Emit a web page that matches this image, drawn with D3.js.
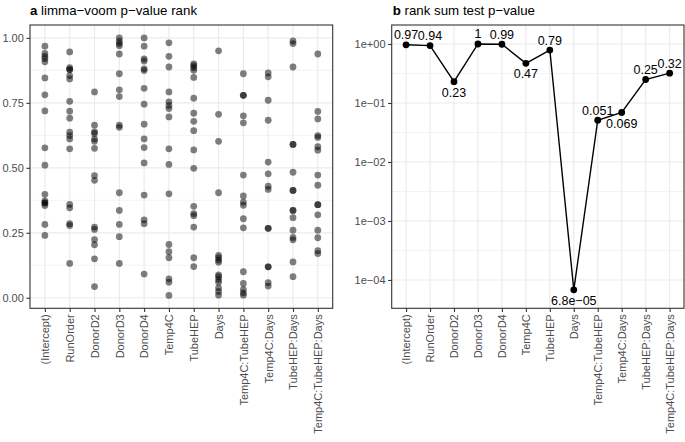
<!DOCTYPE html>
<html>
<head>
<meta charset="utf-8">
<script src="https://cdn.jsdelivr.net/npm/d3@7/dist/d3.min.js"></script>
<style>
  html, body { margin: 0; padding: 0; background: #fff; }
  svg { display: block; font-family: "Liberation Sans", Arial, Helvetica, sans-serif; }
</style>
</head>
<body>
<svg id="chart" width="685" height="442"></svg>
<script>
// ---------- data ----------
const categories = ["(Intercept)", "RunOrder", "DonorD2", "DonorD3", "DonorD4", "Temp4C", "TubeHEP", "Days",
  "Temp4C:TubeHEP", "Temp4C:Days", "TubeHEP:Days", "Temp4C:TubeHEP:Days"];

// panel a: limma-voom p-value ranks (one array per coefficient)
const rankIntercept = [0.968, 0.94, 0.929, 0.92, 0.908, 0.846, 0.781, 0.719, 0.577, 0.51, 0.398, 0.373, 0.365, 0.365, 0.355, 0.282, 0.24];
const rankRunOrder = [0.946, 0.885, 0.878, 0.878, 0.855, 0.842, 0.756, 0.718, 0.691, 0.637, 0.624, 0.611, 0.573, 0.359, 0.346, 0.285, 0.278, 0.132];
const rankDonorD2 = [0.792, 0.664, 0.638, 0.632, 0.611, 0.602, 0.575, 0.47, 0.452, 0.272, 0.263, 0.224, 0.204, 0.15, 0.043];
const rankDonorD3 = [1.0, 0.987, 0.978, 0.97, 0.938, 0.862, 0.8, 0.774, 0.664, 0.656, 0.404, 0.336, 0.282, 0.235, 0.132];
const rankDonorD4 = [1.0, 0.968, 0.919, 0.911, 0.881, 0.874, 0.806, 0.745, 0.668, 0.611, 0.578, 0.519, 0.395, 0.3, 0.285, 0.091];
const rankTemp4C = [0.981, 0.929, 0.888, 0.792, 0.754, 0.74, 0.728, 0.696, 0.573, 0.513, 0.4, 0.205, 0.177, 0.154, 0.073, 0.06, 0.009];
const rankTubeHEP = [0.9, 0.893, 0.885, 0.875, 0.848, 0.768, 0.71, 0.679, 0.643, 0.569, 0.498, 0.352, 0.324, 0.316, 0.272, 0.154, 0.12];
const rankDays = [0.95, 0.706, 0.602, 0.404, 0.163, 0.154, 0.145, 0.137, 0.088, 0.081, 0.07, 0.06, 0.038, 0.024, 0.01];
const rankTemp4CTubeHEP = [0.862, 0.779, 0.779, 0.7, 0.673, 0.472, 0.392, 0.368, 0.356, 0.304, 0.269, 0.1, 0.055, 0.032, 0.019, 0.01];
const rankTemp4CDays = [0.865, 0.85, 0.76, 0.683, 0.522, 0.477, 0.429, 0.417, 0.267, 0.267, 0.119, 0.119, 0.058, 0.045];
const rankTubeHEPDays = [0.988, 0.978, 0.888, 0.59, 0.59, 0.483, 0.413, 0.413, 0.336, 0.336, 0.308, 0.26, 0.232, 0.223, 0.138, 0.081];
const rankTemp4CTubeHEPDays = [0.938, 0.717, 0.688, 0.624, 0.617, 0.581, 0.568, 0.472, 0.433, 0.358, 0.358, 0.319, 0.26, 0.231, 0.181, 0.17];

const rankSeries = [rankIntercept, rankRunOrder, rankDonorD2, rankDonorD3, rankDonorD4, rankTemp4C, rankTubeHEP,
  rankDays, rankTemp4CTubeHEP, rankTemp4CDays, rankTubeHEPDays, rankTemp4CTubeHEPDays];

const rankTicks = [0, 0.25, 0.5, 0.75, 1];
const rankTickLabels = ["0.00", "0.25", "0.50", "0.75", "1.00"];

// panel b: rank sum test p-values
const pValues = [0.97, 0.94, 0.23, 1, 0.99, 0.47, 0.79, 6.8e-05, 0.051, 0.069, 0.25, 0.32];
const pLabels = ["0.97", "0.94", "0.23", "1", "0.99", "0.47", "0.79", "6.8e\u221205", "0.051", "0.069", "0.25", "0.32"];
const pLabelSide = ["above", "above", "below", "above", "above", "below", "above", "below", "above", "below", "above", "above"];
const pTicks = [1, 0.1, 0.01, 0.001, 0.0001];
const pTickLabels = ["1e+00", "1e\u221201", "1e\u221202", "1e\u221203", "1e\u221204"];
const pMinorTicks = [Math.pow(10, -0.5), Math.pow(10, -1.5), Math.pow(10, -2.5), Math.pow(10, -3.5)];

// ---------- layout ----------
const svg = d3.select("#chart");
const gridColor = "#ebebeb";
const borderColor = "#333333";
const axisTextColor = "#4d4d4d";
const panelTop = 25, panelBottom = 308.3;

function bandScale(x0, x1) {
  // discrete scale with 0.6 expansion on both sides (ggplot-like)
  return d3.scalePoint().domain(categories).range([x0, x1]).padding(0.6);
}

function drawXAxis(g, x) {
  const ax = g.append("g").attr("transform", `translate(0,${panelBottom})`)
    .call(d3.axisBottom(x).tickSize(3.6).tickPadding(2.4));
  ax.select(".domain").remove();
  ax.selectAll(".tick line").attr("stroke", borderColor).attr("stroke-width", 1.1);
  ax.selectAll(".tick text")
    .attr("fill", axisTextColor)
    .attr("font-size", "11px")
    .attr("font-family", "'Liberation Sans', Arial, sans-serif")
    .attr("transform", "rotate(-90)")
    .attr("text-anchor", "end")
    .attr("x", -6)
    .attr("y", 0)
    .attr("dy", "0.35em");
}

function drawYAxis(g, y, left, ticks, labels) {
  const ax = g.append("g").attr("transform", `translate(${left},0)`)
    .call(d3.axisLeft(y).tickValues(ticks).tickFormat((d, i) => labels[i]).tickSize(3.6).tickPadding(2.6));
  ax.select(".domain").remove();
  ax.selectAll(".tick line").attr("stroke", borderColor).attr("stroke-width", 1.1);
  ax.selectAll(".tick text")
    .attr("fill", axisTextColor)
    .attr("font-size", "11px")
    .attr("font-family", "'Liberation Sans', Arial, sans-serif");
}

// ---------- panel a ----------
{
  const left = 30, right = 332.7;
  const x = bandScale(left, right);
  const allVals = rankSeries.flat();
  const [mn, mx] = d3.extent(allVals);
  const pad = (mx - mn) * 0.05;
  const y = d3.scaleLinear().domain([mn - pad, mx + pad]).range([panelBottom, panelTop]);
  const g = svg.append("g");

  const minor = [0.125, 0.375, 0.625, 0.875];
  g.selectAll(".minor").data(minor).join("line")
    .attr("x1", left).attr("x2", right)
    .attr("y1", d => y(d)).attr("y2", d => y(d))
    .attr("stroke", gridColor).attr("stroke-width", 0.6);
  g.selectAll(".hmajor").data(rankTicks).join("line")
    .attr("x1", left).attr("x2", right)
    .attr("y1", d => y(d)).attr("y2", d => y(d))
    .attr("stroke", gridColor).attr("stroke-width", 1.2);
  g.selectAll(".vmajor").data(categories).join("line")
    .attr("x1", d => x(d)).attr("x2", d => x(d))
    .attr("y1", panelTop).attr("y2", panelBottom)
    .attr("stroke", gridColor).attr("stroke-width", 1.2);

  const pts = [];
  rankSeries.forEach((arr, i) => arr.forEach(v => pts.push({ c: categories[i], v })));
  g.selectAll(".pt").data(pts).join("circle")
    .attr("cx", d => x(d.c)).attr("cy", d => y(d.v)).attr("r", 3.4)
    .attr("fill", "#000").attr("fill-opacity", 0.5);

  g.append("rect").attr("x", left).attr("y", panelTop).attr("width", right - left).attr("height", panelBottom - panelTop)
    .attr("fill", "none").attr("stroke", borderColor).attr("stroke-width", 1.1);

  drawXAxis(g, x);
  drawYAxis(g, y, left, rankTicks, rankTickLabels);

  const t = g.append("text").attr("x", left).attr("y", 14.5).attr("font-size", "13.3px").attr("fill", "#000");
  t.append("tspan").attr("font-weight", "bold").text("a");
  t.append("tspan").text(" limma\u2212voom p\u2212value rank");
}

// ---------- panel b ----------
{
  const left = 391.7, right = 684;
  const x = bandScale(left, right);
  const y = d3.scaleLog().domain([Math.pow(10, -4.48), Math.pow(10, 0.322)]).range([panelBottom, panelTop]);
  const g = svg.append("g");

  g.selectAll(".minor").data(pMinorTicks).join("line")
    .attr("x1", left).attr("x2", right)
    .attr("y1", d => y(d)).attr("y2", d => y(d))
    .attr("stroke", gridColor).attr("stroke-width", 0.6);
  g.selectAll(".hmajor").data(pTicks).join("line")
    .attr("x1", left).attr("x2", right)
    .attr("y1", d => y(d)).attr("y2", d => y(d))
    .attr("stroke", gridColor).attr("stroke-width", 1.2);
  g.selectAll(".vmajor").data(categories).join("line")
    .attr("x1", d => x(d)).attr("x2", d => x(d))
    .attr("y1", panelTop).attr("y2", panelBottom)
    .attr("stroke", gridColor).attr("stroke-width", 1.2);

  const data = categories.map((c, i) => ({ c, v: pValues[i], label: pLabels[i], side: pLabelSide[i] }));
  const line = d3.line().x(d => x(d.c)).y(d => y(d.v));
  g.append("path").datum(data).attr("d", line)
    .attr("fill", "none").attr("stroke", "#000").attr("stroke-width", 1.4);
  g.selectAll(".pt").data(data).join("circle")
    .attr("cx", d => x(d.c)).attr("cy", d => y(d.v)).attr("r", 3.4).attr("fill", "#000");
  g.selectAll(".lbl").data(data).join("text")
    .attr("x", d => x(d.c))
    .attr("y", d => y(d.v) + (d.side === "above" ? -10 : 10.5))
    .attr("dy", "0.36em")
    .attr("text-anchor", "middle")
    .attr("font-size", "12.5px")
    .attr("fill", "#000")
    .text(d => d.label);

  g.append("rect").attr("x", left).attr("y", panelTop).attr("width", right - left).attr("height", panelBottom - panelTop)
    .attr("fill", "none").attr("stroke", borderColor).attr("stroke-width", 1.1);

  drawXAxis(g, x);
  drawYAxis(g, y, left, pTicks, pTickLabels);

  const t = g.append("text").attr("x", left + 1).attr("y", 14.5).attr("font-size", "13.3px").attr("fill", "#000");
  t.append("tspan").attr("font-weight", "bold").text("b");
  t.append("tspan").text(" rank sum test p\u2212value");
}
</script>
</body>
</html>
